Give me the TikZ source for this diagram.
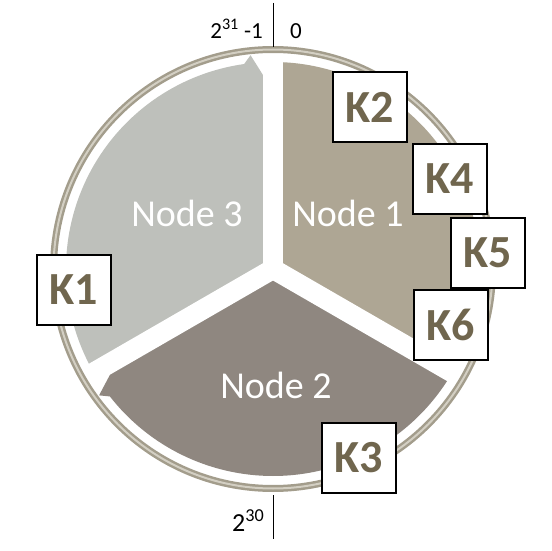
\documentclass[tikz,border=0pt]{standalone}
\usepackage{fontspec}
\setmainfont{Carlito}
\definecolor{nthree}{RGB}{190,192,187}
\definecolor{none}{RGB}{174,166,148}
\definecolor{ntwo}{RGB}{143,135,128}
\definecolor{ringdark}{RGB}{163,157,140}
\definecolor{ringlight}{RGB}{211,207,195}
\definecolor{kcol}{RGB}{112,102,78}
\tikzset{
  kbox/.style={draw=black, line width=2pt, fill=white, minimum width=74pt, minimum height=70pt, inner sep=0pt, font=\fontsize{46}{46}\selectfont\bfseries, text=kcol},
  nodelabel/.style={text=white, font=\fontsize{38}{38}\selectfont, inner sep=0pt},
  marklabel/.style={text=black, font=\fontsize{23}{23}\selectfont, inner sep=0pt},
  gapline/.style={white, line width=20pt},
}
\begin{document}
\begin{tikzpicture}[x=1pt,y=1pt]
\useasboundingbox (0,0) rectangle (552,550);
\coordinate (C) at (273,281);
\begin{scope}[shift={(273,281)}]
  % sectors
  \fill[nthree] (0,0) -- (210:207) arc[start angle=210, end angle=98, radius=207] -- (96:215) -- (90:178) -- cycle;
  \fill[none] (0,0) -- (90:207) arc[start angle=90, end angle=-22, radius=207] -- (-24:215) -- (-30:178) -- cycle;
  \fill[ntwo] (0,0) -- (-30:207) arc[start angle=-30, end angle=-142, radius=207] -- (-144:215) -- (-150:178) -- cycle;
  % gaps
  \draw[gapline] (0,0) -- (90:216);
  \draw[gapline] (0,0) -- (-30:216);
  \draw[gapline] (0,0) -- (210:216);
  % ring
  \draw[ringdark, line width=7pt] (0,0) circle[radius=219.5];
  \draw[ringlight, line width=2pt] (0,0) circle[radius=219.5];
\end{scope}
% axis ticks
\coordinate (t1) at (273,547);
\coordinate (t2) at (273,503);
\coordinate (b1) at (273,55);
\coordinate (b2) at (273,11);
\draw[black, line width=0.9pt] (t1) -- (t2);
\draw[black, line width=0.9pt] (b1) -- (b2);
\node[marklabel, anchor=base east] (lmax) at (263,511) {2\textsuperscript{31} -1};
\node[marklabel, anchor=base west] (lzero) at (290,511) {0};
\node[marklabel, anchor=base west, font=\fontsize{26}{26}\selectfont] (lhalf) at (232,19) {2\textsuperscript{30}};
% node labels
\node[nodelabel] (n3) at (187,337) {Node 3};
\node[nodelabel] (n1) at (348,337) {Node 1};
\node[nodelabel] (n2) at (276,165) {Node 2};
% keys
\node[kbox] (k1) at (73.5,260) {K1};
\node[kbox] (k2) at (370,442.5) {K2};
\node[kbox] (k4) at (450,371) {K4};
\node[kbox] (k5) at (487.5,297) {K5};
\node[kbox] (k6) at (451,225) {K6};
\node[kbox] (k3) at (358.5,92) {K3};
\end{tikzpicture}
\end{document}
